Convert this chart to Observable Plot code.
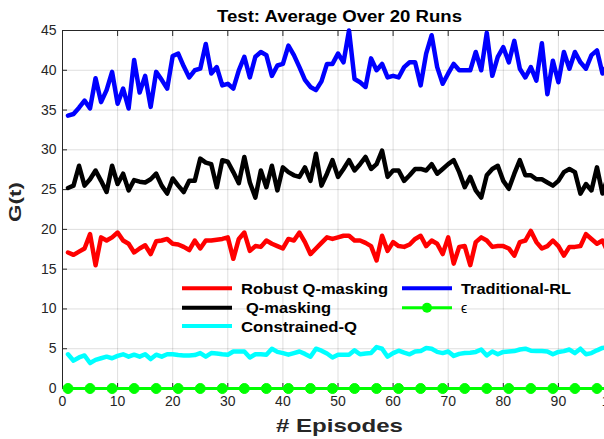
<!DOCTYPE html>
<html><head><meta charset="utf-8">
<script src="https://cdn.jsdelivr.net/npm/d3@7"></script>
<script src="https://cdn.jsdelivr.net/npm/@observablehq/plot@0.6"></script>
<style>html,body{margin:0;padding:0;background:#fff;overflow:hidden}svg{display:block}</style>
</head><body><div id="chart"></div>
<script>
const episodes = d3.range(1, 101);
const robustQ = [
17.1,16.8,17.2,17.6,19.4,15.5,19.0,18.6,19.0,19.6,
18.6,18.2,17.1,17.6,18.0,16.9,18.5,18.6,18.8,18.2,
18.1,17.8,17.4,18.6,17.6,18.6,18.6,18.7,18.8,19.0,
16.3,18.8,19.6,17.3,17.9,17.8,18.6,18.2,17.9,17.6,
18.8,18.6,19.6,18.4,16.9,17.6,18.3,19.0,18.8,19.0,
19.2,19.2,18.6,18.6,18.3,17.9,16.1,19.2,17.3,18.4,
17.9,17.8,18.1,18.8,19.2,17.9,18.6,18.2,16.9,19.0,
15.7,17.8,17.9,15.5,18.4,19.0,18.6,17.8,17.9,17.9,
17.6,16.7,18.4,18.6,19.8,18.4,17.6,17.9,18.6,17.9,
16.7,17.8,17.8,17.9,19.4,18.8,18.2,18.6,17.1,18.0];
const qMasking = [
25.2,25.5,28.0,25.5,26.3,27.4,26.1,24.7,28.0,25.7,
27.0,24.9,26.2,26.0,25.9,26.3,27.0,25.5,24.5,26.4,
25.5,24.7,26.1,26.1,28.9,28.4,28.2,25.3,28.7,28.5,
27.2,25.8,29.1,25.9,24.0,27.4,25.3,28.0,24.9,27.8,
27.2,26.8,26.6,27.8,26.1,29.5,25.5,27.0,28.7,26.6,
27.6,28.7,27.4,28.2,29.1,27.6,28.2,29.9,26.6,27.4,
27.4,26.1,26.8,27.6,27.6,27.4,28.2,27.0,27.6,28.2,
28.7,27.2,25.3,26.6,24.9,24.0,26.8,27.6,28.0,26.1,
25.1,27.0,28.7,26.8,26.8,26.3,26.3,25.9,25.5,26.1,
27.2,27.6,27.2,24.5,25.7,24.9,27.8,24.5,26.6,25.5];
const constrainedQ = [
4.3,3.5,3.9,4.15,3.2,3.6,3.8,4.0,3.8,4.1,
4.3,4.0,4.25,4.0,4.3,3.7,4.25,4.0,4.3,4.3,
4.2,4.15,4.15,4.2,4.45,4.0,4.45,4.4,4.3,4.25,
4.65,4.65,4.65,3.9,4.3,4.3,4.25,5.0,4.6,4.45,
4.25,4.45,4.65,4.35,4.0,5.0,4.75,4.4,3.9,4.25,
4.25,4.25,4.8,4.3,4.4,4.45,5.2,5.0,4.0,4.45,
4.75,4.5,4.3,4.65,4.7,5.1,5.0,4.6,4.45,4.65,
4.1,4.35,4.45,4.5,4.6,4.9,4.15,4.65,4.3,4.6,
4.65,4.7,4.9,5.0,4.75,4.7,4.7,4.65,4.3,4.6,
4.7,4.9,4.45,5.0,4.3,4.45,4.8,5.1,5.2,5.2];
const traditionalRL = [
34.3,34.5,35.3,36.2,35.2,39.0,36.0,37.5,39.8,35.8,
37.7,35.2,41.3,37.2,39.3,35.4,39.8,38.8,37.7,41.8,
42.1,40.5,39.1,40.0,40.2,43.3,39.6,40.4,38.1,38.3,
37.7,40.0,41.7,39.1,41.7,42.3,41.9,39.3,40.6,40.8,
43.1,41.9,40.4,38.8,37.9,37.5,38.6,40.8,40.8,42.1,
41.0,45.0,38.9,38.5,37.9,41.5,40.0,40.8,39.1,39.3,
39.1,40.4,41.0,41.0,38.1,42.1,44.4,40.4,38.3,39.6,
40.8,40.0,40.0,40.0,42.3,40.0,44.7,39.3,41.7,42.9,
41.0,43.7,40.2,39.1,40.4,38.7,43.4,37.0,41.2,38.5,
42.3,40.2,42.3,41.0,40.2,41.9,42.5,39.6,40.8,41.5];
const epsilon = [
0,0,0,0,0,0,0,0,0,0, 0,0,0,0,0,0,0,0,0,0,
0,0,0,0,0,0,0,0,0,0, 0,0,0,0,0,0,0,0,0,0,
0,0,0,0,0,0,0,0,0,0, 0,0,0,0,0,0,0,0,0,0,
0,0,0,0,0,0,0,0,0,0, 0,0,0,0,0,0,0,0,0,0,
0,0,0,0,0,0,0,0,0,0, 0,0,0,0,0,0,0,0,0,0];
const epsilonMarkerEpisodes = [1,5,9,13,17,21,25,29,33,37,41,45,49,53,57,61,65,69,73,77,81,85,89,93,97];
const xTicks = [0,10,20,30,40,50,60,70,80,90,100];
const yTicks = [0,5,10,15,20,25,30,35,40,45];
const seriesNames = ["Robust Q-masking","Q-masking","Constrained-Q","Traditional-RL","\u03F5"];
const seriesColors = ["#ff0000","#000000","#00ffff","#0000ff","#00ff00"];
const titleText = "Test: Average Over 20 Runs";
const xLabelText = "# Episodes";
const yLabelText = "G(t)";

const seriesValues = [robustQ, qMasking, constrainedQ, traditionalRL, epsilon];
const tables = seriesValues.map((vals, s) => episodes.map((e, i) => ({episode: e, value: vals[i], series: seriesNames[s]})));
const markerRows = epsilonMarkerEpisodes.map(e => ({episode: e, value: epsilon[e - 1]}));

const FONT = "'Liberation Sans', Arial, Helvetica, sans-serif";
const plot = Plot.plot({
  width: 604, height: 439,
  marginLeft: 62, marginRight: -9, marginTop: 30, marginBottom: 51,
  x: {domain: [0, 100]},
  y: {domain: [0, 45]},
  style: {fontFamily: FONT, fontSize: "14px", color: "#262626", background: "#fff", overflow: "visible"},
  marks: [
    Plot.gridX(xTicks, {stroke: "#000", strokeOpacity: 0.13}),
    Plot.gridY(yTicks, {stroke: "#000", strokeOpacity: 0.13}),
    Plot.frame({stroke: "#262626", strokeWidth: 1}),
    Plot.axisY({ticks: yTicks, tickSize: -5, tickPadding: 11, label: null, fontSize: 14}),
    Plot.axisX({ticks: xTicks, tickSize: -5, tickPadding: 13, label: null, fontSize: 14}),
    Plot.axisX({ticks: xTicks, anchor: "top", tickSize: -5, tickFormat: () => "", label: null}),
    ...[0, 1, 2, 3].map(s => Plot.line(tables[s], {x: "episode", y: "value", stroke: seriesColors[s], strokeWidth: 4.5, strokeLinejoin: "round", strokeLinecap: "round"})),
    Plot.line(tables[4], {x: "episode", y: "value", stroke: seriesColors[4], strokeWidth: 3}),
    Plot.dot(markerRows, {x: "episode", y: "value", r: 5, fill: seriesColors[4], stroke: seriesColors[4], strokeWidth: 1})
  ]
});
document.getElementById("chart").appendChild(plot);

const svg = d3.select(plot);
// Title
svg.append("text").text(titleText)
  .attr("x", 339.5).attr("y", 22).attr("text-anchor", "middle")
  .attr("font-family", FONT).attr("font-weight", "bold").attr("font-size", 16)
  .attr("fill", "#000").attr("textLength", 245).attr("lengthAdjust", "spacingAndGlyphs");
// X label
svg.append("text").text(xLabelText)
  .attr("x", 339.5).attr("y", 432).attr("text-anchor", "middle")
  .attr("font-family", FONT).attr("font-weight", "bold").attr("font-size", 19)
  .attr("fill", "#262626").attr("textLength", 127).attr("lengthAdjust", "spacingAndGlyphs");
// Y label
svg.append("text").text(yLabelText)
  .attr("transform", "translate(20.5,202) rotate(-90)").attr("text-anchor", "middle")
  .attr("font-family", FONT).attr("font-weight", "bold").attr("font-size", 17)
  .attr("fill", "#262626").attr("textLength", 40).attr("lengthAdjust", "spacingAndGlyphs");

// Legend (two columns, MATLAB-style, no box)
const legendCols = [182, 402];
const legendRows = [288.3, 307.7, 326];
const legendLayout = [
  {s: 0, col: 0, row: 0, len: 147, dx: 0},
  {s: 1, col: 0, row: 1, len: 85, dx: 5},
  {s: 2, col: 0, row: 2, len: 116, dx: 0},
  {s: 3, col: 1, row: 0, len: 110, dx: 0},
  {s: 4, col: 1, row: 1, len: null, dx: 0}
];
const lg = svg.append("g").attr("font-family", FONT).attr("font-weight", "bold").attr("font-size", 14).attr("text-anchor", "start");
legendLayout.forEach(it => {
  const x0 = legendCols[it.col], y0 = legendRows[it.row];
  lg.append("line").attr("x1", x0).attr("x2", x0 + 50).attr("y1", y0).attr("y2", y0)
    .attr("stroke", seriesColors[it.s]).attr("stroke-width", it.s === 4 ? 3 : 4);
  if (it.s === 4) lg.append("circle").attr("cx", x0 + 25).attr("cy", y0).attr("r", 5).attr("fill", seriesColors[4]);
  const t = lg.append("text").text(seriesNames[it.s]).attr("x", x0 + 59 + it.dx).attr("y", y0 + 5.5)
    .attr("fill", "#000").attr("text-anchor", "start");
  if (it.len) t.attr("textLength", it.len).attr("lengthAdjust", "spacingAndGlyphs");
  else t.attr("font-weight", "normal").attr("y", y0 + 5);
});
</script>
</body></html>
